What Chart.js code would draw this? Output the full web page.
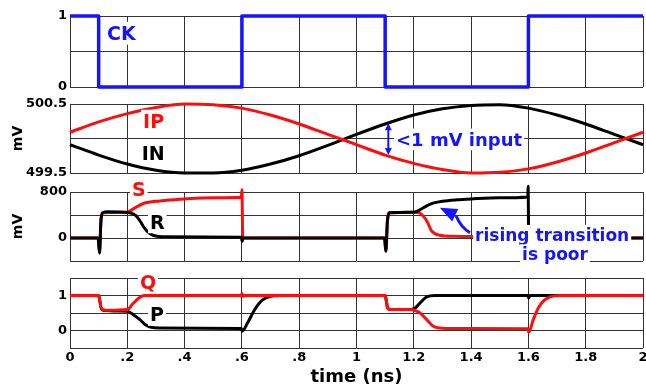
<!DOCTYPE html>
<html>
<head>
<meta charset="utf-8">
<script src="https://cdn.jsdelivr.net/npm/chart.js@4/dist/chart.umd.min.js"></script>
<style>
  html, body { margin: 0; padding: 0; background: #fff; }
  #wrap { position: relative; width: 646px; height: 392px; overflow: hidden; }
  #wrap canvas { position: absolute; left: 0; }
</style>
</head>
<body>
<div id="wrap">
  <canvas id="ck" width="646" height="95" style="top:4px"></canvas>
  <canvas id="inp" width="646" height="93" style="top:92px"></canvas>
  <canvas id="sr" width="646" height="93" style="top:180px"></canvas>
  <canvas id="qp" width="646" height="126" style="top:266px"></canvas>
</div>
<script>
Chart.defaults.font.family = '"DejaVu Sans", sans-serif';
Chart.defaults.font.weight = 'bold';
Chart.defaults.font.size = 13;
Chart.defaults.color = '#000';

const BLUE = '#1414ff';
const RED = '#ff0d0d';
const BLACK = '#000';
const GRID = '#333';

// axe du temps (ns)
const timeTickVals = [0, 0.2, 0.4, 0.6, 0.8, 1, 1.2, 1.4, 1.6, 1.8, 2];
const timeTickLabels = ['0', '.2', '.4', '.6', '.8', '1', '1.2', '1.4', '1.6', '1.8', '2'];

// horloge CK
const ckTime = [0, 0.1, 0.1, 0.6, 0.6, 1.1, 1.1, 1.6, 1.6, 2];
const ckLevel = [1, 1, 0, 0, 1, 1, 0, 0, 1, 1];
const ckTickVals = [0, 0.5, 1];
const ckTickLabels = ['0', '', '1'];

// entrées IP / IN (mV)
const inTime = [0, 0.1, 0.2, 0.3, 0.4, 0.5, 0.6, 0.7, 0.8, 0.9, 1, 1.1, 1.2, 1.3, 1.4, 1.5, 1.6, 1.7, 1.8, 1.9, 2];
const ipMv = [500.09, 500.24, 500.36, 500.45, 500.50, 500.49, 500.44, 500.34, 500.21, 500.06, 499.91, 499.76, 499.64, 499.55, 499.50, 499.51, 499.56, 499.66, 499.79, 499.94, 500.09];
const inMv = [499.91, 499.76, 499.63, 499.54, 499.50, 499.50, 499.54, 499.63, 499.75, 499.90, 500.06, 500.21, 500.34, 500.43, 500.48, 500.49, 500.44, 500.34, 500.21, 500.06, 499.91];
const inTickVals = [499.5, 500, 500.5];
const inTickLabels = ['499.5', '', '500.5'];

// noeuds S / R (mV)
const sTime = [0, 0.098, 0.103, 0.108, 0.115, 0.2, 0.215, 0.256, 0.314, 0.384, 0.512, 0.598, 0.6, 0.603, 1.098, 1.103, 1.108, 1.115, 1.2, 1.222, 1.245, 1.262, 1.29, 1.34, 1.4, 1.598, 1.602, 2];
const sMv = [0, 0, -260, 300, 440, 450, 490, 600, 645, 675, 700, 708, 840, 0, 0, -230, 300, 440, 450, 430, 300, 125, 48, 30, 25, 20, 0, 0];
const rTime = [0, 0.098, 0.103, 0.108, 0.115, 0.13, 0.2, 0.215, 0.23, 0.244, 0.256, 0.268, 0.29, 0.337, 0.598, 0.601, 0.604, 1.098, 1.102, 1.108, 1.115, 1.2, 1.225, 1.245, 1.27, 1.3, 1.35, 1.4, 1.5, 1.598, 1.599, 1.601, 2];
const rMv = [0, 0, -260, 300, 440, 455, 445, 430, 390, 300, 200, 125, 48, 20, 15, -60, 0, 0, -230, 300, 440, 450, 500, 560, 610, 640, 665, 680, 700, 715, 900, 0, 0];
const srTickVals = [-400, 0, 400, 800];
const srTickLabels = ['', '0', '', '800'];

// sorties Q / P
const qTime = [0, 0.1, 0.104, 0.108, 0.115, 0.13, 0.2, 0.22, 0.244, 0.26, 0.598, 0.601, 0.604, 0.61, 1.1, 1.104, 1.108, 1.117, 1.19, 1.205, 1.222, 1.245, 1.268, 1.29, 1.35, 1.598, 1.601, 1.617, 1.635, 1.652, 1.675, 1.71, 2];
const qLevel = [1, 1, 0.85, 0.66, 0.6, 0.58, 0.6, 0.77, 0.95, 1, 1, 1.06, 0.98, 1, 1, 0.85, 0.66, 0.6, 0.6, 0.57, 0.5, 0.31, 0.12, 0.07, 0.055, 0.05, -0.05, 0.31, 0.65, 0.84, 0.96, 1, 1];
const pTime = [0, 0.1, 0.104, 0.108, 0.115, 0.2, 0.22, 0.244, 0.262, 0.28, 0.314, 0.598, 0.601, 0.62, 0.645, 0.67, 0.7, 0.73, 1.1, 1.104, 1.108, 1.117, 1.19, 1.205, 1.222, 1.245, 1.274, 1.598, 1.601, 1.605, 2];
const pLevel = [1, 1, 0.85, 0.66, 0.58, 0.55, 0.46, 0.31, 0.17, 0.1, 0.07, 0.06, -0.02, 0.22, 0.6, 0.86, 0.98, 1, 1, 0.85, 0.66, 0.6, 0.6, 0.64, 0.79, 0.96, 1, 1, 0.93, 1, 1];
const qpTickVals = [-0.5, 0, 0.5, 1, 1.5];
const qpTickLabels = ['', '0', '', '1', ''];

// Crée une courbe à partir de deux listes
function serie(label, ts, vs, couleur, lisse, largeur) {
  return {
    label: label,
    data: ts.map((t, i) => ({ x: t, y: vs[i] })),
    borderColor: couleur,
    borderWidth: largeur || 3,
    pointRadius: 0,
    fill: false,
    tension: 0,
    cubicInterpolationMode: lisse ? 'monotone' : 'default',
    borderJoinStyle: 'round',
    clip: 8
  };
}

function axeX(avecTexte) {
  return {
    type: 'linear',
    min: 0,
    max: 2,
    afterBuildTicks: s => { s.ticks = timeTickVals.map(v => ({ value: v })); },
    afterFit: s => { s.paddingLeft = 0; s.paddingRight = 0; s.height = avecTexte ? 44 : 0; },
    ticks: {
      display: avecTexte,
      callback: (v, i) => timeTickLabels[i],
      padding: 2,
      maxRotation: 0,
      autoSkip: false,
      font: { size: 13, weight: 'bold' }
    },
    grid: { color: GRID, lineWidth: 1, drawTicks: false },
    border: { display: false },
    title: {
      display: avecTexte,
      text: 'time (ns)',
      font: { size: 18, weight: 'bold' },
      padding: { top: 0, bottom: 4 }
    }
  };
}

function axeY(min, max, vals, labels, titre) {
  return {
    min: min,
    max: max,
    afterBuildTicks: s => { s.ticks = vals.map(v => ({ value: v })); },
    afterFit: s => { s.width = 70; s.paddingTop = 0; s.paddingBottom = 0; },
    ticks: {
      callback: (v, i) => labels[i],
      padding: 3,
      autoSkip: false,
      font: { size: 13, weight: 'bold' }
    },
    grid: { color: GRID, lineWidth: 1, drawTicks: false },
    border: { display: false },
    title: titre
      ? { display: true, text: titre, font: { size: 14, weight: 'bold' }, padding: { top: 10, bottom: 0 } }
      : { display: false }
  };
}

function pointe(ctx, x0, y0, x1, y1, longueur, demi) {
  const dx = x1 - x0, dy = y1 - y0;
  const d = Math.hypot(dx, dy) || 1;
  const ux = dx / d, uy = dy / d;
  const bx = x1 - ux * longueur, by = y1 - uy * longueur;
  ctx.beginPath();
  ctx.moveTo(x1, y1);
  ctx.lineTo(bx - uy * demi, by + ux * demi);
  ctx.lineTo(bx + uy * demi, by - ux * demi);
  ctx.closePath();
  ctx.fill();
}

// Étiquettes et flèches (coordonnées en unités des données)
function etiquettes(items, fleches) {
  return {
    id: 'etiquettes',
    afterDatasetsDraw(chart) {
      const { ctx, scales: { x, y } } = chart;
      ctx.save();
      (fleches || []).forEach(f => {
        ctx.strokeStyle = f.color;
        ctx.fillStyle = f.color;
        ctx.lineWidth = f.width;
        const p = f.pts.map(([t, v]) => [x.getPixelForValue(t), y.getPixelForValue(v)]);
        if (f.type === 'double') {
          const [a, b] = p;
          ctx.beginPath();
          ctx.moveTo(a[0], a[1] + 5);
          ctx.lineTo(b[0], b[1] - 5);
          ctx.stroke();
          pointe(ctx, b[0], b[1], a[0], a[1], 7, 3.5);
          pointe(ctx, a[0], a[1], b[0], b[1], 7, 3.5);
        } else {
          const [q, c, e, tip] = p;
          ctx.beginPath();
          ctx.moveTo(q[0], q[1]);
          ctx.quadraticCurveTo(c[0], c[1], e[0], e[1]);
          ctx.stroke();
          pointe(ctx, e[0] + 2, e[1] + 1, tip[0], tip[1], 17, 7);
        }
      });
      items.forEach(it => {
        ctx.font = `bold ${it.size}px "DejaVu Sans"`;
        ctx.textAlign = 'left';
        ctx.textBaseline = 'alphabetic';
        const px = x.getPixelForValue(it.t);
        const base = y.getPixelForValue(it.v) + it.size * 0.36;
        const w = ctx.measureText(it.text).width;
        ctx.fillStyle = '#fff';
        ctx.fillRect(px - 2, base - it.size * 0.95, w + 4, it.size * 1.2);
        ctx.fillStyle = it.color;
        ctx.fillText(it.text, px, base);
      });
      ctx.restore();
    }
  };
}

function panneau(id, datasets, axeVertical, avecTemps, plugin) {
  new Chart(document.getElementById(id), {
    type: 'line',
    data: { datasets: datasets },
    options: {
      responsive: false,
      animation: false,
      devicePixelRatio: 1,
      layout: { padding: { top: 12, right: 3, bottom: avecTemps ? 0 : 12, left: 0 } },
      plugins: { legend: { display: false }, tooltip: { enabled: false } },
      scales: { x: axeX(avecTemps), y: axeVertical }
    },
    plugins: [plugin]
  });
}

panneau('ck',
  [serie('CK', ckTime, ckLevel, BLUE, false, 3.5)],
  axeY(0, 1, ckTickVals, ckTickLabels, null), false,
  etiquettes([{ text: 'CK', t: 0.129, v: 0.76, color: BLUE, size: 19 }]));

panneau('inp',
  [serie('IP', inTime, ipMv, RED, true), serie('IN', inTime, inMv, BLACK, true)],
  axeY(499.5, 500.5, inTickVals, inTickLabels, 'mV'), false,
  etiquettes([
    { text: 'IP', t: 0.255, v: 500.254, color: RED, size: 19 },
    { text: 'IN', t: 0.25, v: 499.79, color: BLACK, size: 19 },
    { text: '<1 mV input', t: 1.138, v: 499.99, color: BLUE, size: 18 }
  ], [
    { type: 'double', color: BLUE, width: 2, pts: [[1.111, 500.22], [1.111, 499.76]] }
  ]));

panneau('sr',
  [serie('R', rTime, rMv, BLACK, true), serie('S', sTime, sMv, RED, true)],
  axeY(-400, 800, srTickVals, srTickLabels, 'mV'), false,
  etiquettes([
    { text: 'S', t: 0.216, v: 853, color: RED, size: 19 },
    { text: 'R', t: 0.279, v: 284, color: BLACK, size: 19 },
    { text: 'rising transition', t: 1.414, v: 53, color: BLUE, size: 17 },
    { text: 'is poor', t: 1.578, v: -284, color: BLUE, size: 17 }
  ], [
    { type: 'courbe', color: BLUE, width: 3, pts: [[1.396, 94], [1.365, 178], [1.347, 391], [1.291, 524]] }
  ]));

panneau('qp',
  [serie('Q', qTime, qLevel, RED, true), serie('P', pTime, pLevel, BLACK, true)],
  axeY(-0.5, 1.5, qpTickVals, qpTickLabels, null), true,
  etiquettes([
    { text: 'Q', t: 0.244, v: 1.386, color: RED, size: 19 },
    { text: 'P', t: 0.279, v: 0.466, color: BLACK, size: 19 }
  ]));
</script>
</body>
</html>
